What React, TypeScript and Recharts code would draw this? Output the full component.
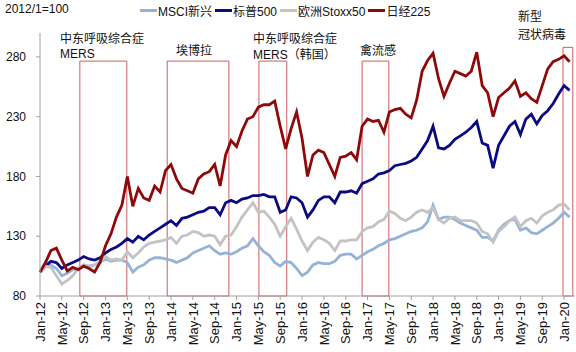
import { LineChart, Line, XAxis, YAxis, ReferenceArea } from "recharts";

// month index 0 = Jan-12, one value per month up to Feb-20
const msci = [
  100, 105, 106, 103, 97, 99, 102, 103, 106, 105, 106, 108,
  111, 109, 110, 110, 108, 100, 104, 106, 110, 112, 112, 111,
  110, 108, 110, 112, 116, 118, 120, 122, 118, 115, 116, 115,
  117, 120, 122, 128, 122, 117, 114, 108, 105, 109, 108, 103,
  97, 100, 106, 108, 107, 107, 109, 114, 115, 115, 111, 114,
  117, 119, 122, 124, 127, 128, 130, 132, 134, 135, 137, 142,
  156, 144, 146, 146, 144, 141, 139, 137, 135, 129, 129, 126,
  135, 140, 143, 144, 135, 137, 133, 132, 135, 138, 141, 145,
  150, 146,
];
const spx = [
  100, 105, 109, 108, 103, 106, 108, 110, 113, 111, 110, 112,
  116, 119, 121, 124, 128, 125, 130, 127, 131, 134, 137, 140,
  143, 139, 145, 146, 148, 150, 151, 154, 154, 148, 158, 160,
  158, 161, 162, 164, 164, 165, 163, 163, 150, 152, 163, 162,
  158, 146, 152, 160, 163, 163, 158, 167, 167, 168, 166, 174,
  176, 178, 182, 183, 185, 189, 190, 191, 193, 196, 203, 210,
  222, 204, 203, 206, 211, 214, 217, 221, 226, 208, 206, 187,
  206, 214, 222, 226, 215, 228, 232, 224, 231, 235, 241, 249,
  256, 252,
];
const stoxx = [
  100, 105, 104, 97, 90, 93, 97, 103, 106, 104, 106, 109,
  113, 110, 111, 110, 117, 112, 116, 121, 124, 125, 126, 127,
  129, 124, 130, 131, 134, 133, 130, 131, 130, 123, 130, 131,
  138, 146, 152, 158, 150, 151, 146, 140, 130, 138, 145, 136,
  126, 118, 125, 129, 127, 124, 118, 126, 126, 127, 127, 134,
  137, 138, 142, 144, 151, 149, 145, 143, 146, 150, 152, 150,
  154, 144, 141, 145, 146, 143, 143, 143, 141, 134, 132, 125,
  134, 138, 143, 146, 138, 143, 145, 141, 147, 150, 152, 156,
  157, 152,
];
const nikkei = [
  100, 108, 118, 120, 110, 101, 104, 102, 105, 103, 100, 108,
  122, 132, 146, 156, 180, 155, 170, 162, 160, 172, 167, 185,
  190, 178, 170, 168, 166, 178, 182, 184, 190, 172, 198, 210,
  205, 218, 228, 230, 238, 240, 240, 243, 222, 203, 220, 234,
  212, 180, 198, 202, 200, 190, 180, 196, 197, 200, 194, 222,
  228, 226, 227, 217, 234, 236, 237, 232, 229, 244, 268, 277,
  283, 262, 247, 258, 268, 266, 264, 268, 284, 256, 250, 230,
  246, 250, 254, 260, 247, 250, 245, 242, 256, 270, 276, 278,
  281, 276,
];

const tickLabels = [
  "Jan-12", "May-12", "Sep-12", "Jan-13", "May-13", "Sep-13", "Jan-14", "May-14", "Sep-14",
  "Jan-15", "May-15", "Sep-15", "Jan-16", "May-16", "Sep-16", "Jan-17", "May-17", "Sep-17",
  "Jan-18", "May-18", "Sep-18", "Jan-19", "May-19", "Sep-19", "Jan-20",
];
const yTicks = [80, 130, 180, 230, 280];

// event windows, in month index
const eventStart = [7.3, 23.3, 40.1, 59, 95.8];
const eventEnd = [15.9, 34.6, 45.2, 63.9, 97.6];
const eventTop = [276.5, 276.5, 276.5, 276.5, 288];

const series = [
  { key: "msci", name: "MSCI新兴", color: "#95b3d7" },
  { key: "spx", name: "标普500", color: "#0a0a84" },
  { key: "stoxx", name: "欧洲Stoxx50", color: "#c3c3c3" },
  { key: "nikkei", name: "日经225", color: "#8e0a0a" },
];

const data = nikkei.map((v, i) => ({ m: i, msci: msci[i], spx: spx[i], stoxx: stoxx[i], nikkei: v }));

const font = '"Liberation Sans", Arial, "Noto Sans CJK SC", sans-serif';
const cjk = '"Noto Sans CJK SC", "Liberation Sans", sans-serif';

const RotatedTick = (props: any) => {
  const { x, y, payload } = props;
  return (
    <text
      x={x}
      y={y}
      transform={`rotate(-90 ${x} ${y})`}
      textAnchor="end"
      dy="0.36em"
      fontSize={13}
      fontFamily={font}
      fill="#111"
    >
      {tickLabels[Math.round(payload.value / 4)]}
    </text>
  );
};

// annotation lines: text, left, vertical centre
const notes = [
  { text: "中东呼吸综合症", left: 60, cy: 38, f: cjk },
  { text: "MERS", left: 60, cy: 54, f: font },
  { text: "埃博拉", left: 176, cy: 50, f: cjk },
  { text: "中东呼吸综合症", left: 253, cy: 38, f: cjk },
  { text: "MERS（韩国）", left: 253, cy: 55, f: font },
  { text: "禽流感", left: 360, cy: 50, f: cjk },
  { text: "新型", left: 518, cy: 16, f: cjk },
  { text: "冠状病毒", left: 518, cy: 34, f: cjk },
];

export default function App() {
  return (
    <div style={{ position: "relative", width: 576, height: 352, background: "#fff", fontFamily: font }}>
      <style>{"body{margin:0}"}</style>
      <LineChart width={576} height={352} data={data} margin={{ top: 33, right: 1, bottom: 0, left: 0 }}>
        <XAxis
          dataKey="m"
          type="number"
          domain={[0, 98]}
          ticks={tickLabels.map((_, i) => i * 4)}
          height={56}
          tick={<RotatedTick />}
          tickSize={4}
          tickMargin={2}
          stroke="#a0a0a0"
          interval={0}
        />
        <YAxis
          type="number"
          domain={[80, 300]}
          ticks={yTicks}
          width={40}
          tickSize={4}
          tickMargin={10}
          stroke="#a0a0a0"
          tick={{ fontSize: 12, fill: "#111", fontFamily: font }}
          allowDataOverflow
        />
        {eventStart.map((s, i) => (
          <ReferenceArea
            key={i}
            x1={s}
            x2={eventEnd[i]}
            y1={80}
            y2={eventTop[i]}
            stroke="#cf5b5e"
            strokeWidth={1}
            fill="none"
            fillOpacity={0}
            ifOverflow="visible"
          />
        ))}
        {series.map((s) => (
          <Line
            key={s.key}
            dataKey={s.key}
            stroke={s.color}
            strokeWidth={2.8}
            dot={false}
            type="linear"
            isAnimationActive={false}
          />
        ))}
      </LineChart>

      <div style={{ position: "absolute", left: 5, top: 2, fontSize: 12, color: "#111" }}>2012/1=100</div>
      <div style={{ position: "absolute", left: 140, top: 2, display: "flex", alignItems: "center", fontSize: 12, color: "#111", fontFamily: font }}>
        {series.map((s) => (
          <span key={s.key} style={{ display: "flex", alignItems: "center", marginRight: 3 }}>
            <span style={{ display: "inline-block", width: 17, height: 3, background: s.color, marginRight: 1 }} />
            <span>{s.name}</span>
          </span>
        ))}
      </div>

      {notes.map((n, i) => (
        <div
          key={i}
          style={{
            position: "absolute",
            left: n.left,
            top: n.cy - 7,
            height: 14,
            fontSize: 12,
            lineHeight: "14px",
            color: "#111",
            fontFamily: n.f,
            whiteSpace: "nowrap",
          }}
        >
          {n.text}
        </div>
      ))}
    </div>
  );
}
